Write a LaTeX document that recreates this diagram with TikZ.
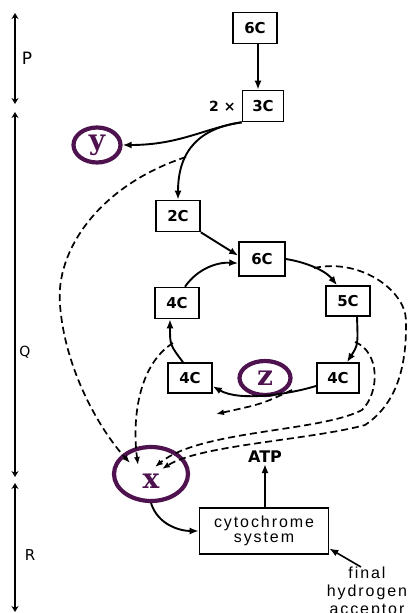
\documentclass[tikz,border=0pt]{standalone}
\usepackage{fontspec}
\setsansfont{DejaVu Sans}
\newfontfamily\carrierfont{DejaVu Serif}
\newfontfamily\widefont{Liberation Sans}[LetterSpace=12]
\usetikzlibrary{arrows.meta,positioning,shapes.geometric,calc}
\definecolor{plum}{RGB}{78,18,78}

\begin{document}
\begin{tikzpicture}[x=1pt,y=-1pt]
\tikzstyle{carbon}=[draw,line width=1.6pt,minimum width=44pt,minimum height=31pt,inner sep=0pt,font=\sffamily\bfseries\fontsize{15}{17}\selectfont]
\tikzstyle{carrier}=[ellipse,draw=plum,line width=4.2pt,inner sep=0pt,text=plum,font=\carrierfont\bfseries\fontsize{28}{28}\selectfont]
\tikzstyle{reaction}=[line width=1.9pt,-{Latex[length=9pt,width=7pt]}]
\tikzstyle{htransfer}=[line width=1.7pt,dash pattern=on 7pt off 4pt,-{Latex[length=8pt,width=6pt]}]
\tikzstyle{phase}=[line width=1.7pt,{Stealth[length=6pt,width=7pt]}-{Stealth[length=6pt,width=7pt]}]
\tikzstyle{lbl}=[inner sep=1pt,font=\sffamily\bfseries\fontsize{14}{16}\selectfont]
\useasboundingbox (0,0) rectangle (408,613);

% left hand scale
\coordinate (Ptop) at (15,13);
\coordinate (Pbot) at (15,104);
\coordinate (Qtop) at (15,112);
\coordinate (Qbot) at (15,477);
\coordinate (Rtop) at (15,483);
\coordinate (Rbot) at (15,612);
\draw[phase] (Ptop) -- (Pbot);
\draw[phase] (Qtop) -- (Qbot);
\draw[phase] (Rtop) -- (Rbot);
\node[font=\sffamily\fontsize{17}{17}\selectfont] (P) at (27,58) {P};
\node[font=\sffamily\fontsize{14}{14}\selectfont] (Q) at (25,352) {Q};
\node[font=\sffamily\fontsize{15}{15}\selectfont] (R) at (30,555) {R};

\node[carbon] (top6) at (255,28) {6C};
\node[carbon,minimum width=41pt] (tri) at (263,106) {3C};
\node[lbl,left=5pt of tri] (twice) {2 ×};
\node[carrier,minimum width=47pt,minimum height=35pt] (Y) at (97,145) {y};
\node[carbon] (di) at (178,216) {2C};
\node[carbon,minimum width=46pt,minimum height=34pt] (hexa) at (262,259) {6C};
\node[carbon] (tetraA) at (177,303) {4C};
\node[carbon,minimum height=30pt] (penta) at (348,301) {5C};
\node[carbon,minimum height=30pt] (tetraB) at (190,378) {4C};
\node[carrier,minimum width=51pt,minimum height=34pt] (Z) at (265,378) {z};
\node[carbon,minimum width=42pt,minimum height=30pt] (tetraC) at (338,378) {4C};
\node[carrier,minimum width=74pt,minimum height=54pt] (X) at (151,474) {};
\node[text=plum,font=\carrierfont\bfseries\fontsize{28}{28}\selectfont] (Xname) at (151,481) {x};
\node[lbl,font=\sffamily\bfseries\fontsize{16}{18}\selectfont] (atp) at (265,457) {ATP};
\node[draw,line width=1.6pt,minimum width=129pt,minimum height=46pt,align=center,font=\widefont\fontsize{16}{15}\selectfont] (cyt) at (264,531) {cytochrome\\system};
\node[anchor=north,inner sep=0pt,align=center,font=\widefont\fontsize{16}{18}\selectfont] (fha) at (367,567) {final\\hydrogen\\acceptor};

\draw[reaction] ([xshift=3pt]top6.south) -- ([xshift=-5pt]tri.north);
\draw[reaction] (tri.south west) .. controls (205,128) and (180,145) .. (Y.east);
\draw[reaction] (tri.south west) .. controls (200,128) and (178,150) .. (di.north);
\draw[reaction] (di.south east) -- (hexa.172);
\draw[reaction] (hexa.east) .. controls (305,262) and (325,270) .. ([xshift=-11pt]penta.north);
\draw[reaction] ([xshift=9pt]penta.south) .. controls (358,345) .. ([xshift=9pt]tetraC.north);
\draw[reaction] (tetraC.200) .. controls (290,394) and (240,402) .. (tetraB.-20);
\draw[reaction] ([xshift=-7pt]tetraB.north) .. controls (170,345) .. ([xshift=-7pt]tetraA.south);
\draw[reaction] ([xshift=8pt]tetraA.north) .. controls (198,268) and (218,262) .. (hexa.190);
\draw[reaction] ([xshift=1pt]cyt.north) -- (atp);
\draw[reaction] (X.south) .. controls (158,525) and (180,531) .. (cyt.west);
\draw[reaction,line width=1.6pt] ([xshift=-6pt]fha.north) -- (cyt.-15);

% hydrogen to the carrier
\coordinate (h1) at (186,157);
\coordinate (h2) at (173,343);
\coordinate (h3) at (292,390);
\coordinate (h3end) at (216,414);
\coordinate (h4) at (355,342);
\coordinate (h5) at (314,268);
\coordinate (in1) at ($(X)+(-21,-11)$);
\coordinate (in2) at ($(X)+(-13,-9)$);
\coordinate (in3) at ($(X)+(4,-7)$);
\coordinate (in4) at ($(X)+(11,-5)$);
\draw[htransfer] (h1) .. controls (100,185) and (55,250) .. (60,305) .. controls (65,370) and (100,430) .. (in1);
\draw[htransfer] (h2) .. controls (138,365) and (132,420) .. (in2);
\draw[htransfer] (h3) .. controls (262,404) .. (h3end);
\draw[htransfer] (h4) .. controls (380,352) and (380,392) .. (362,410) .. controls (320,432) and (200,430) .. (in3);
\draw[htransfer] (h5) .. controls (360,258) and (405,290) .. (406,320) .. controls (407,370) and (395,405) .. (365,425) .. controls (310,440) and (200,445) .. (in4);
\end{tikzpicture}
\end{document}
